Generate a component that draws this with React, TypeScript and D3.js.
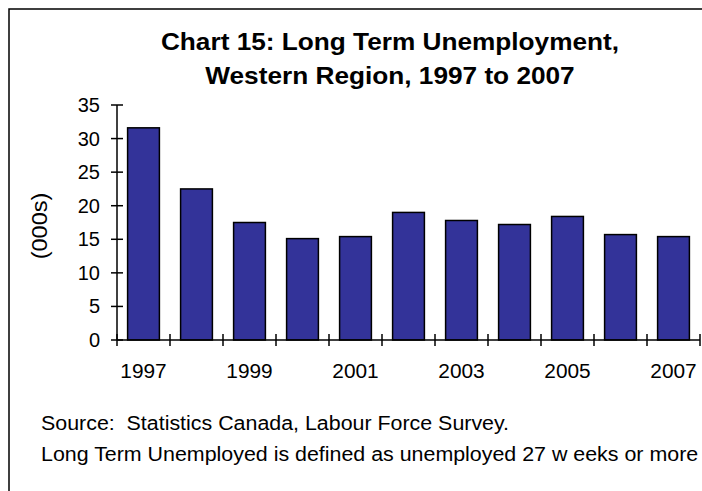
import React from "react";
import * as d3 from "d3";

const years = [1997, 1998, 1999, 2000, 2001, 2002, 2003, 2004, 2005, 2006, 2007];
const values = [31.6, 22.5, 17.5, 15.1, 15.4, 19.0, 17.8, 17.2, 18.4, 15.7, 15.4];
const yTicks = [0, 5, 10, 15, 20, 25, 30, 35];
const xLabelYears = [1997, 1999, 2001, 2003, 2005, 2007];
const titleLines = ["Chart 15: Long Term Unemployment,", "Western Region, 1997 to 2007"];
const yLabel = "(000s)";
const notes = [
  "Source:  Statistics Canada, Labour Force Survey.",
  "Long Term Unemployed is defined as unemployed 27 w eeks or more",
];

const W = 702;
const H = 491;
const font = "'Liberation Sans', Arial, sans-serif";
const SX = 1.07;

function SText(props: {
  x: number;
  y: number;
  size: number;
  anchor?: string;
  bold?: boolean;
  dy?: string;
  sx?: number;
  children: React.ReactNode;
}) {
  const { x, y, size, anchor = "start", bold, dy, sx = SX, children } = props;
  return (
    <text
      transform={`translate(${x},${y}) scale(${sx},1)`}
      textAnchor={anchor}
      fontSize={size}
      fontWeight={bold ? "bold" : "normal"}
      dy={dy}
      fill="#000"
      style={{ whiteSpace: "pre" }}
    >
      {children}
    </text>
  );
}

export default function App() {
  const x = d3
    .scaleBand<number>()
    .domain(years)
    .range([117, 700])
    .paddingInner(0.4)
    .paddingOuter(0.2);
  const y = d3.scaleLinear().domain([0, 35]).range([340, 105]);
  const step = x.step();
  const x0 = x.range()[0];
  const boundaries = d3.range(years.length + 1).map((i) => x0 + i * step);

  return (
    <svg
      width={W}
      height={H}
      style={{ position: "absolute", left: 0, top: 0, background: "#fff" }}
      fontFamily={font}
    >
      <rect x={0} y={0} width={W} height={H} fill="#fff" />
      <rect x={9} y={9} width={800} height={600} fill="none" stroke="#000" strokeWidth={1.5} />

      {titleLines.map((t, i) => (
        <SText key={i} x={390} y={49.5 + i * 34} size={24.5} anchor="middle" bold>
          {t}
        </SText>
      ))}

      {years.map((yr, i) => (
        <rect
          key={yr}
          x={x(yr)}
          y={y(values[i])}
          width={x.bandwidth()}
          height={y(0) - y(values[i])}
          fill="#333399"
          stroke="#000"
          strokeWidth={1.5}
        />
      ))}

      {/* y axis */}
      <line x1={x0} x2={x0} y1={y(35)} y2={y(0)} stroke="#000" strokeWidth={1.5} />
      {yTicks.map((t) => (
        <g key={t}>
          <line x1={x0 - 6} x2={x0 + 6} y1={y(t)} y2={y(t)} stroke="#000" strokeWidth={1.5} />
          <SText x={100} y={y(t)} dy="0.35em" anchor="end" size={20} sx={1.0}>
            {t}
          </SText>
        </g>
      ))}

      {/* x axis */}
      <line x1={x0} x2={boundaries[boundaries.length - 1]} y1={y(0)} y2={y(0)} stroke="#000" strokeWidth={1.5} />
      {boundaries.map((b, i) => (
        <line key={i} x1={b} x2={b} y1={y(0) - 6} y2={y(0) + 6} stroke="#000" strokeWidth={1.5} />
      ))}
      {xLabelYears.map((yr) => (
        <SText
          key={yr}
          x={(x(yr) as number) + x.bandwidth() / 2}
          y={377.5}
          anchor="middle"
          size={19.5}
        >
          {yr}
        </SText>
      ))}

      <text
        transform={`translate(47,226) rotate(-90) scale(${SX},1)`}
        textAnchor="middle"
        fontSize={22}
        fill="#000"
      >
        {yLabel}
      </text>

      {notes.map((n, i) => (
        <SText key={i} x={41} y={429.5 + i * 31.3} size={20}>
          {n}
        </SText>
      ))}
    </svg>
  );
}
